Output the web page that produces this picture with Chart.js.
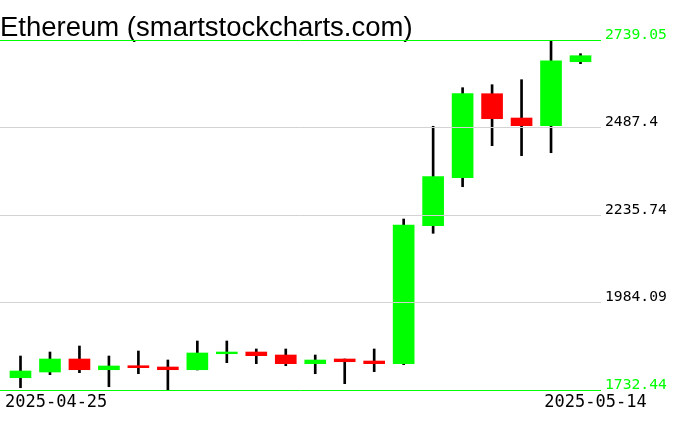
<!DOCTYPE html>
<html>
<head>
<meta charset="utf-8">
<script src="https://cdn.jsdelivr.net/npm/chart.js@4/dist/chart.umd.min.js"></script>
<style>
html,body{margin:0;padding:0;background:#fff;overflow:hidden}
canvas{display:block}
</style>
</head>
<body>
<canvas id="c" width="676" height="431"></canvas>
<script>
const chartTitle = 'Ethereum (smartstockcharts.com)';
const dates = ['2025-04-25','2025-04-26','2025-04-27','2025-04-28','2025-04-29','2025-04-30',
  '2025-05-01','2025-05-02','2025-05-03','2025-05-04','2025-05-05','2025-05-06','2025-05-07',
  '2025-05-08','2025-05-09','2025-05-10','2025-05-11','2025-05-12','2025-05-13','2025-05-14'];
const opens  = [1767.8,1784.2,1821.6,1790.8,1802.3,1798.6,1790.8,1836.8,1841.7,1833.1,1808.1,1821.6,1815.8,1808.1,2205.0,2343.0,2584.6,2514.7,2492.6,2676.6];
const highs  = [1830.2,1841.7,1859.0,1830.2,1844.6,1818.7,1873.4,1873.4,1850.4,1850.4,1833.1,1821.6,1850.4,2224.2,2490.9,2601.9,2610.5,2624.9,2739.05,2699.7];
const lows   = [1739.0,1776.5,1782.2,1741.9,1779.3,1732.44,1790.0,1811.0,1808.1,1802.3,1779.3,1750.6,1785.1,1805.2,2183.1,2317.1,2435.1,2406.3,2414.9,2670.9];
const closes = [1787.1,1821.6,1790.8,1801.5,1796.6,1790.8,1838.9,1841.7,1831.1,1808.1,1818.7,1813.8,1808.1,2207.0,2345.9,2584.6,2512.7,2492.6,2679.5,2693.9];
const yTickValues = [1732.44,1984.09,2235.74,2487.4,2739.05];
const yTickLabels = ['1732.44','1984.09','2235.74','2487.4','2739.05'];
const xTickLabels = ['2025-04-25','2025-05-14'];

const GREEN = '#00ff00', RED = '#ff0000', GRID = '#d3d3d3';
const lastY = yTickValues.length - 1;
const isEdge = i => i === 0 || i === lastY;

new Chart(document.getElementById('c'), {
  type: 'bar',
  data: {
    datasets: [
      {
        label: 'body',
        data: dates.map((d, i) => ({ x: i, y: [opens[i], closes[i]] })),
        backgroundColor: dates.map((d, i) => closes[i] >= opens[i] ? GREEN : RED),
        borderWidth: 0,
        grouped: false,
        barPercentage: 1,
        categoryPercentage: 1,
        maxBarThickness: 21,
        order: 0
      },
      {
        label: 'wick',
        data: dates.map((d, i) => ({ x: i, y: [lows[i], highs[i]] })),
        backgroundColor: '#000000',
        borderWidth: 0,
        grouped: false,
        barPercentage: 1,
        categoryPercentage: 1,
        maxBarThickness: 2,
        order: 1
      }
    ]
  },
  options: {
    responsive: false,
    animation: false,
    events: [],
    layout: { padding: 0 },
    plugins: {
      legend: { display: false },
      tooltip: { enabled: false },
      title: {
        display: true,
        text: chartTitle,
        align: 'start',
        color: '#000000',
        font: { family: '"Liberation Sans", Arial, sans-serif', size: 27.5, weight: 'normal', lineHeight: '23px' },
        padding: { top: 17, bottom: 0 }
      }
    },
    scales: {
      x: {
        type: 'linear',
        offset: false,
        min: -0.6955,
        max: 19.6955,
        grid: { display: false, drawTicks: false, offset: false },
        border: { display: false },
        afterBuildTicks: s => { s.ticks = [{ value: -0.526 }, { value: 21.245 }]; },
        afterFit: s => { s.height = 41; },
        ticks: {
          align: 'inner',
          padding: 2,
          maxRotation: 0,
          autoSkip: false,
          color: '#000000',
          font: { family: '"DejaVu Sans Mono", monospace', size: 17 },
          callback: (v, i) => xTickLabels[i]
        }
      },
      y: {
        type: 'linear',
        position: 'right',
        min: Math.min(...lows),
        max: Math.max(...highs),
        grid: {
          z: 1,
          drawTicks: false,
          lineWidth: 1,
          color: c => isEdge(c.index) ? GREEN : GRID
        },
        border: { display: false },
        afterBuildTicks: s => { s.ticks = yTickValues.map(v => ({ value: v })); },
        afterFit: s => { s.width = 75; },
        ticks: {
          padding: 4,
          labelOffset: -5,
          autoSkip: false,
          color: c => isEdge(c.index) ? GREEN : '#000000',
          font: { family: '"DejaVu Sans Mono", monospace', size: 14.7 },
          callback: (v, i) => yTickLabels[i]
        }
      }
    }
  }
});
</script>
</body>
</html>
